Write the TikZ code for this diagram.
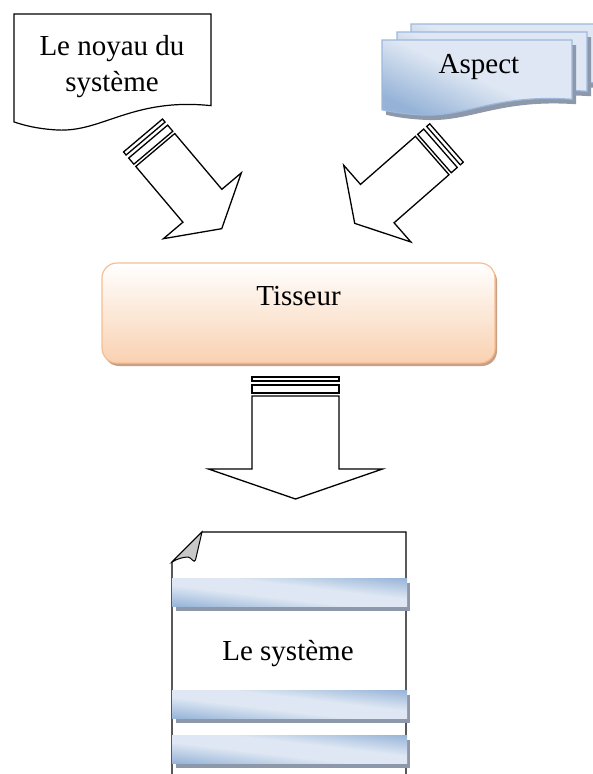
\documentclass[tikz,border=0pt]{standalone}
\usepackage{fontspec}
\setmainfont{Liberation Serif}
\usetikzlibrary{shadows}

\definecolor{bluelight}{HTML}{DEE7F3}
\definecolor{bluedark}{HTML}{95B3D7}
\definecolor{blueline}{HTML}{9DB8DD}
\definecolor{blueshadow}{HTML}{8D98AB}
\definecolor{peach}{HTML}{F9D1B1}
\definecolor{peachline}{HTML}{F6BE94}
\definecolor{peachshadow}{HTML}{C9A083}
\definecolor{foldgray}{HTML}{C8C8C8}

\pgfdeclareverticalshading{stripeshade}{100bp}{color(0bp)=(bluedark); color(34bp)=(bluedark);
  color(46bp)=(bluelight); color(54bp)=(bluelight); color(66bp)=(bluedark); color(100bp)=(bluedark)}

\tikzset{
  doctext/.style={font=\fontsize{29}{36}\selectfont, align=center, inner sep=0pt},
  arrowline/.style={draw=black, line width=1.3pt, fill=white, line join=miter},
  bluedoc/.style={draw=blueline, line width=1.2pt, shading=axis, top color=bluelight, bottom color=bluedark,
    middle color=bluelight, shading angle=-25},
  shadowdoc/.style={fill=blueshadow},
  plaindoc/.style={draw=black, line width=1.2pt, fill=white},
  stripe/.style={shading=stripeshade},
  tisbox/.style={draw=peachline, line width=1.2pt, rounded corners=15pt, top color=white, bottom color=peach,
    minimum width=393pt, minimum height=100pt, text depth=34pt,
    drop shadow={shadow xshift=2pt, shadow yshift=-3pt, fill=peachshadow, opacity=1}},
  pics/wavedoc/.style={code={
    \path[#1] (0,0) -- (1,0) -- (1,0.79) .. controls (0.6,0.72) and (0.45,1.02) .. (0.22,1)
      .. controls (0.12,0.99) and (0.05,0.96) .. (0,0.93) -- cycle;
  }},
  pics/stripedarrow/.style={code={
    \draw[arrowline] (0,-#1) rectangle (4,#1);
    \draw[arrowline] (8,-#1) rectangle (16,#1);
    \draw[arrowline] (19,-#1) -- (92,-#1) -- (92,-2*#1) -- (122,0) -- (92,2*#1) -- (92,#1) -- (19,#1) -- cycle;
  }}
}

\begin{document}
\begin{tikzpicture}[x=1pt, y=-1pt]
  \useasboundingbox (0,0) rectangle (593,774);
  \clip (0,0) rectangle (593,774);

  \pic[xscale=197, yscale=116] at (14,14) {wavedoc=plaindoc};
  \node[doctext] (noyau) at (112,66.5) {Le noyau du\\système};

  \foreach \dx/\dy in {411/24, 397/32, 382/40} {
    \pic[xscale=190, yscale=75] at (\dx+4,\dy+5) {wavedoc=shadowdoc};
    \pic[xscale=190, yscale=75] at (\dx,\dy) {wavedoc=bluedoc};
  }
  \node[doctext, anchor=base] (aspect) at (479,73) {Aspect};

  \pic[rotate=-49.8] at (143,135.5) {stripedarrow=25.5};
  \pic[rotate=-138.8] at (446.5,143) {stripedarrow=25.5};

  \node[tisbox, font=\fontsize{29}{33}\selectfont] (tisseur) at (298.5,313) {Tisseur};

  \pic[rotate=-90] at (295.5,377) {stripedarrow=43.5};

  \draw[line width=1.2pt] (172,790) -- (172,562) -- (202,532) -- (406,532) -- (406,790);
  \filldraw[foldgray, draw=black, line width=1pt] (172,562) -- (202,532) -- (195.5,560)
    .. controls (194,564) and (191,557) .. (188,557) .. controls (183,557) and (177,559) .. (172,562) -- cycle;
  \foreach \y in {578,690,735} {
    \fill[blueshadow] (176,\y+5) rectangle (410,\y+33);
    \begin{scope}
      \clip (172,\y) rectangle (407,\y+28);
      \begin{scope}[transform canvas={rotate around={-6.8:(289.5,\y+14)}}]
        \shade[stripe] (110,\y-30) rectangle (470,\y+58);
      \end{scope}
    \end{scope}
  }
  \node[doctext, anchor=base] (systeme) at (288,660) {Le système};
\end{tikzpicture}
\end{document}
